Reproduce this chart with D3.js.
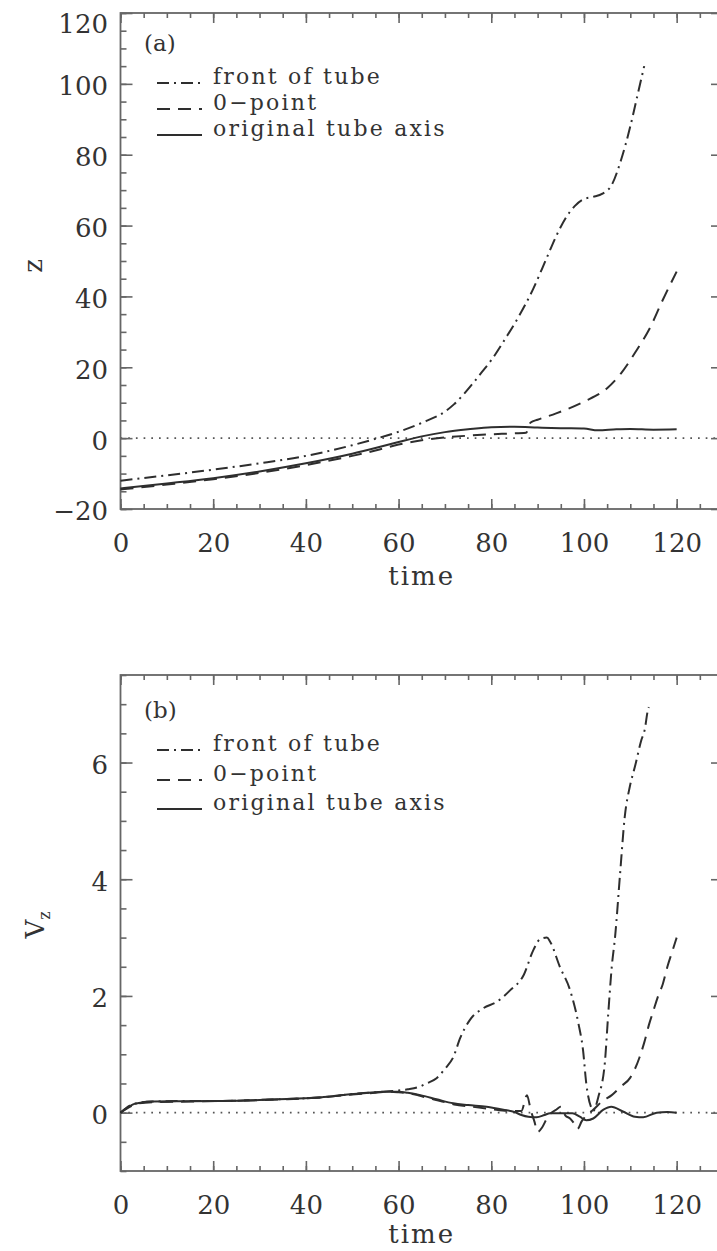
<!DOCTYPE html>
<html>
<head>
<meta charset="utf-8">
<script src="https://cdn.jsdelivr.net/npm/d3@7"></script>
<style>
  html, body { margin: 0; background: #fff; }
  svg { display: block; }
  text { font-family: "DejaVu Serif", serif; fill: #333; }
</style>
</head>
<body>
<svg id="chart" width="717" height="1251"></svg>
<script>
// ---- Panel (a): height z of each feature against time ----
const frontZTime = [0, 10, 20, 30, 40, 50, 55, 60, 65, 70, 72, 74, 76, 78, 80, 83, 86, 89, 92, 94, 96, 98, 100, 102, 104, 106, 108, 110, 111.5, 113];
const frontZ     = [-12, -10.5, -8.9, -7.1, -5.0, -2.0, -0.2, 1.8, 4.3, 7.5, 9.6, 12.3, 15.4, 18.7, 22, 28, 34.5, 42, 51, 57, 62, 65.5, 67.5, 68.1, 69, 71.5, 78.5, 88, 96.5, 105];

const zeroZTime = [0, 10, 20, 30, 40, 50, 55, 60, 65, 70, 75, 80, 84, 87.5, 88.5, 90, 94, 100, 105, 108, 111.4, 114, 117, 120];
const zeroZ     = [-14.5, -13.1, -11.6, -9.8, -7.6, -5.0, -3.5, -1.8, -0.6, 0.2, 0.7, 1.1, 1.3, 1.5, 4.4, 5.2, 7.0, 10.3, 14.1, 18.3, 24.9, 30.5, 39, 47];

const axisZTime = [0, 10, 20, 30, 40, 50, 55, 60, 65, 70, 75, 80, 85, 90, 95, 100, 103, 107, 110, 115, 120];
const axisZ     = [-14.2, -12.8, -11.3, -9.4, -7.1, -4.4, -2.8, -1.1, 0.5, 1.7, 2.5, 3.1, 3.2, 3.0, 2.8, 2.7, 2.2, 2.5, 2.6, 2.4, 2.5];

// ---- Panel (b): vertical velocity V_z against time ----
const frontVTime = [0, 2, 4, 7, 15, 22, 30, 36, 43, 50, 55, 60, 62, 64.7, 66, 68.2, 70, 71.8, 73.3, 75.4, 78.3, 81.2, 84.1, 87, 89.1, 90.5, 92, 92.7, 94.8, 97, 98.8, 99.8, 100.5, 101.6, 102, 103.1, 104.5, 105.2, 106, 106.7, 107.8, 108.8, 109.9, 111, 112.4, 113.1, 113.8, 114];
const frontV     = [0, 0.12, 0.17, 0.19, 0.2, 0.2, 0.22, 0.235, 0.26, 0.32, 0.35, 0.38, 0.4, 0.45, 0.5, 0.59, 0.75, 0.95, 1.28, 1.59, 1.79, 1.9, 2.1, 2.36, 2.79, 2.97, 3.0, 2.93, 2.5, 2.1, 1.53, 1.07, 0.5, 0.08, 0.03, 0.27, 0.85, 1.65, 2.5, 3.0, 4.1, 5.07, 5.59, 5.93, 6.39, 6.56, 6.9, 6.95];

const zeroVTime = [0, 2, 4, 7, 15, 22, 30, 36, 43, 50, 55, 58, 60, 63, 66, 69, 72, 76, 80, 84, 86.5, 87.7, 88.5, 89.3, 90, 91, 92, 93, 94, 95, 96, 97, 98, 98.6, 99.5, 100.5, 102, 104, 106, 108, 110, 111, 112, 113, 114, 115, 116, 117, 118, 119, 120];
const zeroV     = [0, 0.1, 0.16, 0.18, 0.19, 0.2, 0.215, 0.23, 0.26, 0.31, 0.34, 0.36, 0.35, 0.32, 0.26, 0.2, 0.14, 0.1, 0.06, 0.03, 0.03, 0.3, 0.05, -0.15, -0.33, -0.25, -0.1, 0.0, 0.05, 0.1, -0.05, -0.1, -0.2, -0.28, -0.15, -0.05, 0.05, 0.2, 0.3, 0.45, 0.6, 0.75, 0.95, 1.2, 1.5, 1.75, 2.0, 2.2, 2.5, 2.75, 3.0];

const axisVTime = [0, 1, 2, 3, 4.3, 7, 15, 21.6, 30, 35.9, 43.1, 50.3, 55, 57.5, 60, 62, 64.7, 68.2, 71.8, 75, 79, 82.6, 85, 86.5, 88, 89.8, 91.5, 92.7, 95, 97.5, 99.1, 100.5, 102, 104.2, 105.9, 108.4, 111, 112.8, 115.7, 118, 120];
const axisV     = [0, 0.06, 0.11, 0.15, 0.17, 0.19, 0.195, 0.2, 0.215, 0.235, 0.26, 0.32, 0.35, 0.36, 0.36, 0.34, 0.3, 0.23, 0.16, 0.13, 0.1, 0.05, 0.01, -0.04, -0.07, -0.08, -0.04, -0.01, -0.01, -0.01, -0.07, -0.13, -0.1, 0.05, 0.1, 0.02, -0.07, -0.08, 0.0, 0.01, 0.0];

// ---- Axis ticks ----
const timeMajorTicks = [0, 20, 40, 60, 80, 100, 120];
const timeMinorTicks = d3.range(0, 131, 5);
const zMajorTicks = [-20, 0, 20, 40, 60, 80, 100, 120];
const zMinorTicks = d3.range(-20, 121, 5);
const vMajorTicks = [0, 2, 4, 6];
const vMinorTicks = d3.range(-1, 7.51, 0.5);

const seriesNames = ["front of tube", "0\u2212point", "original tube axis"];

// ---- Styling ----
const INK = "#2e2e2e";
const FRAME = "#666";
const DASHES = ["12,5,2,5", "13,8", null];

const svg = d3.select("#chart");

function drawPanel(cfg) {
  const x = d3.scaleLinear().domain([0, 130]).range([120.5, 723]);
  const y = d3.scaleLinear().domain(cfg.yDomain).range([cfg.bottom, cfg.top]);
  const g = svg.append("g");
  const W = 723 - 120.5, H = cfg.bottom - cfg.top;

  // zero reference line
  g.append("line")
    .attr("x1", x(0)).attr("x2", x(130))
    .attr("y1", y(0)).attr("y2", y(0))
    .attr("stroke", "#555").attr("stroke-width", 1.7)
    .attr("stroke-dasharray", "1.7,6");

  // axes: ticks point inward on all four sides
  const styleAxis = sel => {
    sel.select(".domain").remove();
    sel.selectAll(".tick line").attr("stroke", FRAME).attr("stroke-width", 1.6);
  };
  const addAxis = (axis, tx, ty) => g.append("g")
    .attr("transform", `translate(${tx},${ty})`).call(axis).call(styleAxis);

  // bottom
  addAxis(d3.axisBottom(x).tickValues(timeMinorTicks).tickSize(-5).tickFormat(""), 0, cfg.bottom);
  const bx = addAxis(d3.axisBottom(x).tickValues(timeMajorTicks).tickSize(-10).tickPadding(25).tickFormat(d3.format("d")), 0, cfg.bottom);
  // top
  addAxis(d3.axisTop(x).tickValues(timeMinorTicks).tickSize(-5).tickFormat(""), 0, cfg.top);
  addAxis(d3.axisTop(x).tickValues(timeMajorTicks).tickSize(-10).tickFormat(""), 0, cfg.top);
  // left
  addAxis(d3.axisLeft(y).tickValues(cfg.yMinor).tickSize(-6).tickFormat(""), 120.5, 0);
  const ly = addAxis(d3.axisLeft(y).tickValues(cfg.yMajor).tickSize(-12).tickPadding(12.5).tickFormat(d3.format("")), 120.5, 0);
  // right
  addAxis(d3.axisRight(y).tickValues(cfg.yMinor).tickSize(-6).tickFormat(""), 723, 0);
  addAxis(d3.axisRight(y).tickValues(cfg.yMajor).tickSize(-12).tickFormat(""), 723, 0);

  [bx, ly].forEach(a => a.selectAll("text")
    .attr("font-family", "DejaVu Serif, serif")
    .attr("font-size", 26)
    .attr("fill", "#333"));
  // left labels sit a little below their ticks; the topmost one clears the frame edge
  ly.selectAll("text").attr("dy", d => d === cfg.yDomain[1] ? "0.75em" : "0.42em");

  // frame
  g.append("rect")
    .attr("x", 120.5).attr("y", cfg.top).attr("width", W).attr("height", H)
    .attr("fill", "none").attr("stroke", FRAME).attr("stroke-width", 1.8);

  // curves
  const line = d3.line().x(d => x(d[0])).y(d => y(d[1])).curve(d3.curveMonotoneX);
  cfg.series.forEach((s, i) => {
    g.append("path")
      .datum(d3.zip(s.t, s.v))
      .attr("d", line)
      .attr("fill", "none")
      .attr("stroke", INK)
      .attr("stroke-width", 2)
      .attr("stroke-linejoin", "round")
      .attr("stroke-dasharray", DASHES[i]);
  });

  // panel tag
  g.append("text").attr("x", 144).attr("y", cfg.tagY)
    .attr("font-size", 23).text(cfg.tag);

  // legend
  cfg.legendRows.forEach((ry, i) => {
    g.append("line")
      .attr("x1", 157).attr("x2", 202).attr("y1", ry).attr("y2", ry)
      .attr("stroke", INK).attr("stroke-width", 2)
      .attr("stroke-dasharray", DASHES[i]);
    g.append("text").attr("x", 213).attr("y", ry + 1)
      .attr("font-size", 22).attr("letter-spacing", 2.2)
      .text(seriesNames[i]);
  });

  // x title
  g.append("text").attr("x", (120.5 + 723) / 2).attr("y", cfg.xTitleY)
    .attr("text-anchor", "middle").attr("font-size", 26).attr("letter-spacing", 2)
    .text("time");

  // y title (rotated)
  const yt = g.append("text")
    .attr("transform", `translate(${cfg.yTitleX},${cfg.yTitleY}) rotate(-90)`)
    .attr("text-anchor", "middle").attr("font-size", 26);
  cfg.yTitle(yt);
}

drawPanel({
  top: 13, bottom: 509, yDomain: [-20, 120],
  yMajor: zMajorTicks, yMinor: zMinorTicks,
  tag: "(a)", tagY: 51, legendRows: [83, 109, 135],
  series: [
    { t: frontZTime, v: frontZ },
    { t: zeroZTime, v: zeroZ },
    { t: axisZTime, v: axisZ }
  ],
  xTitleY: 585,
  yTitleX: 42, yTitleY: 266,
  yTitle: t => t.text("z")
});

drawPanel({
  top: 675, bottom: 1171, yDomain: [-1, 7.5],
  yMajor: vMajorTicks, yMinor: vMinorTicks,
  tag: "(b)", tagY: 718, legendRows: [750, 780, 809],
  series: [
    { t: frontVTime, v: frontV },
    { t: zeroVTime, v: zeroV },
    { t: axisVTime, v: axisV }
  ],
  xTitleY: 1243,
  yTitleX: 44, yTitleY: 925,
  yTitle: t => {
    t.append("tspan").text("V");
    t.append("tspan").attr("font-size", 16).attr("dy", 6).text("z");
  }
});
</script>
</body>
</html>
